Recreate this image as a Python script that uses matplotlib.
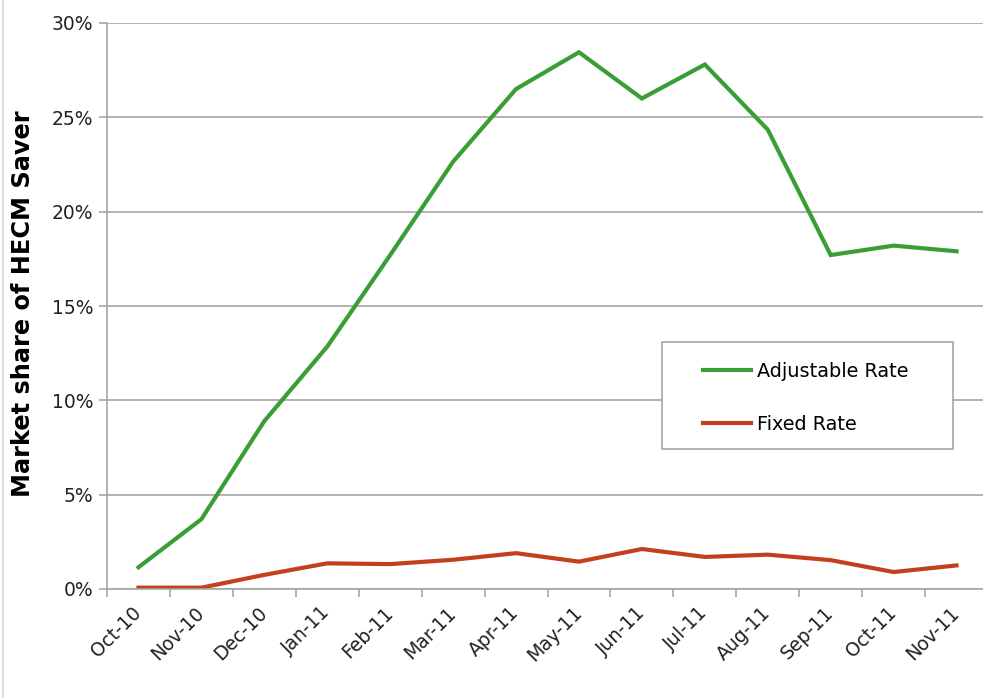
import matplotlib.pyplot as plt
import numpy as np
from matplotlib.lines import Line2D
from matplotlib.patches import Rectangle

months = ['Oct-10', 'Nov-10', 'Dec-10', 'Jan-11', 'Feb-11', 'Mar-11', 'Apr-11',
          'May-11', 'Jun-11', 'Jul-11', 'Aug-11', 'Sep-11', 'Oct-11', 'Nov-11']
adjustable = [1.15, 3.7, 8.9, 12.85, 17.7, 22.65, 26.5, 28.45, 26.0, 27.8, 24.35, 17.7, 18.2, 17.9]
fixed = [0.07, 0.07, 0.75, 1.36, 1.32, 1.55, 1.9, 1.45, 2.12, 1.7, 1.82, 1.53, 0.9, 1.25]

green = '#3a9e36'
red = '#c4401c'
grid_c = '#a6a6a6'

plt.rcParams['font.family'] = 'DejaVu Sans'

fig = plt.figure(figsize=(9.83, 6.98), dpi=100)
W, H = 983, 698
# plot area in pixels: left 107, right 988, top 23, bottom 589
ax = fig.add_axes([107 / W, (H - 589) / H, (988 - 107) / W, (589 - 23) / H])

x = np.arange(len(months))
ax.plot(x, adjustable, color=green, lw=3.0, solid_joinstyle='miter', label='Adjustable Rate')
ax.plot(x, fixed, color=red, lw=3.0, solid_joinstyle='miter', label='Fixed Rate')

ax.set_xlim(-0.5, len(months) - 0.5)
ax.set_ylim(0, 30)

ax.set_yticks(np.arange(0, 31, 5))
ax.set_yticklabels(['%d%%' % v for v in range(0, 31, 5)], fontsize=13.5, color='#222222')
ax.yaxis.grid(True, color=grid_c, lw=1.2)
ax.set_axisbelow(True)

# ticks at category boundaries, labels at centres
ax.set_xticks(np.arange(-0.5, len(months) - 0.5, 1))
ax.set_xticklabels([])
ax.set_xticks(x, minor=True)
ax.set_xticklabels(months, minor=True, rotation=45, ha='right', va='center',
                   rotation_mode='anchor', fontsize=13.5, color='#222222')
ax.tick_params(axis='x', which='major', length=6, color=grid_c, width=1.2)
ax.tick_params(axis='x', which='minor', length=0, pad=15)
ax.tick_params(axis='y', length=6, color=grid_c, width=1.2, pad=4)

for s in ['top', 'right']:
    ax.spines[s].set_visible(False)
ax.spines['left'].set_color(grid_c)
ax.spines['bottom'].set_color(grid_c)
ax.spines['left'].set_linewidth(1.2)
ax.spines['bottom'].set_linewidth(1.2)

fig.text(23 / W, 1 - 304 / H, 'Market share of HECM Saver', rotation=90,
         fontsize=17.3, fontweight='bold', ha='center', va='center')

# legend box
fig.add_artist(Rectangle((662 / W, 1 - 449 / H), 291 / W, 107 / H,
                         transform=fig.transFigure, facecolor='white',
                         edgecolor=grid_c, lw=1.2, zorder=4))
handles = [Line2D([], [], color=green, lw=3.0), Line2D([], [], color=red, lw=3.0)]
leg = fig.legend(handles, ['Adjustable Rate', 'Fixed Rate'],
                 loc='upper left', bbox_to_anchor=(703 / W, 1 - 362 / H),
                 frameon=False, fontsize=13.9, handlelength=2.5,
                 labelspacing=1.75, borderpad=0, handletextpad=0.3,
                 borderaxespad=0)
leg.set_zorder(5)

# faint outer chart border on the left
fig.add_artist(Line2D([3 / W, 3 / W], [0, 1], color='#d9d9d9', lw=1.2))

fig.savefig('out.png', dpi=100)
